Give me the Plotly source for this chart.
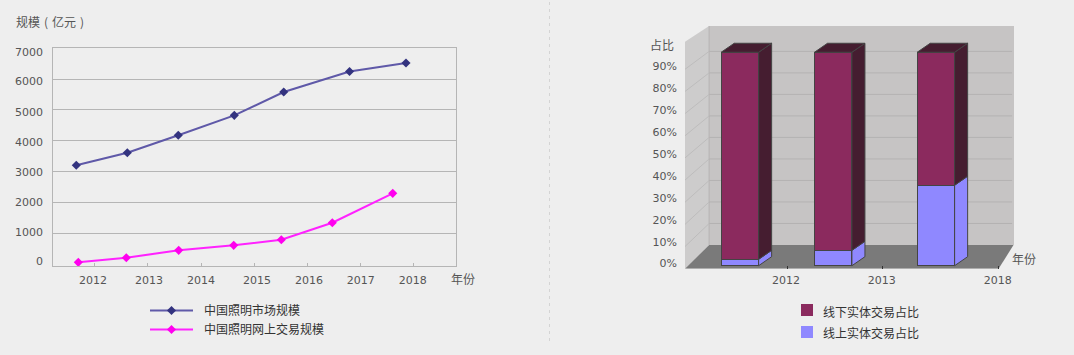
import plotly.graph_objects as go

W, H = 1074, 355
BG = "#eeeeee"
FONT = "DejaVu Sans, Noto Sans CJK SC, sans-serif"
CJK = "Noto Sans CJK SC, sans-serif"
AXC = "#b5b5b5"
TXT = "#555555"

# ---- left chart data (years on a numeric axis, points sit off the year ticks)
market_name = "中国照明市场规模"
online_name = "中国照明网上交易规模"
market_x = [2011.654, 2012.613, 2013.571, 2014.624, 2015.553, 2016.79, 2017.851]
market_v = [3205, 3613, 4178, 4826, 5582, 6247, 6523]
online_x = [2011.692, 2012.594, 2013.579, 2014.613, 2015.508, 2016.466, 2017.602]
online_v = [58, 208, 448, 610, 791, 1343, 2296]
left_years = ["2012", "2013", "2014", "2015", "2016", "2017", "2018"]
left_year_ticks = [2012, 2013, 2014, 2015, 2016, 2017, 2018]
left_year_labelpos = [2011.968, 2013.02, 2014.0, 2015.05, 2016.03, 2017.0, 2017.98]
left_grid = [1000, 2000, 3000, 4000, 5000, 6000, 7000]
left_labels = ["0", "1000", "2000", "3000", "4000", "5000", "6000", "7000"]
left_labelpos = [100, 1051, 2024, 2997, 3970, 4943, 5939, 6889]

# ---- right chart data
offline_name = "线下实体交易占比"
online_share_name = "线上实体交易占比"
bar_pos = [0.495, 1.477, 2.558]
online_share = [3.0, 7.2, 37.7]
offline_share = [97.0, 92.8, 62.3]
right_years = ["2012", "2013", "2018"]
right_year_ticks = [1, 2, 3.218]
right_year_labelpos = [0.979, 1.989, 3.21]
pct_labels = ["0%", "10%", "20%", "30%", "40%", "50%", "60%", "70%", "80%", "90%"]
pct_vals = [0, 10, 20, 30, 40, 50, 60, 70, 80, 90]
BAR_W = 0.394
DX, DY = 0.137, 4.22          # bar depth in axis units
WX0, WX1, WXB = -0.083, 3.38, 0.171  # wall left, right end, back-left
FRONT0, BACK0 = -1.4, 9.7     # floor height front and back
OFFLINE_C, ONLINE_C = "#8b2a5e", "#8f88ff"


def pxx(a, b):
    return [a / W, b / W]


def pxy(top, bottom):
    return [1 - bottom / H, 1 - top / H]


fig = go.Figure()

# ---- left chart
fig.add_trace(go.Scatter(x=market_x, y=market_v, name="\u2002" + market_name, mode="lines+markers",
                         line=dict(color="#5f59a8", width=2),
                         marker=dict(symbol="diamond", size=7, color="#33337f"),
                         legendgroup="a"))
fig.add_trace(go.Scatter(x=online_x, y=online_v, name="\u2002" + online_name, mode="lines+markers",
                         line=dict(color="#ff22ff", width=2),
                         marker=dict(symbol="diamond", size=7, color="#ff00ee"),
                         legendgroup="b"))

# ---- right chart: front faces are real stacked bars
fig.add_trace(go.Bar(x=bar_pos, y=online_share, width=BAR_W, name=online_share_name,
                     xaxis="x2", yaxis="y2", showlegend=False,
                     marker=dict(color=ONLINE_C, line=dict(color="#444444", width=1))))
fig.add_trace(go.Bar(x=bar_pos, y=offline_share, width=BAR_W, name=offline_name,
                     xaxis="x2", yaxis="y2", showlegend=False,
                     marker=dict(color=OFFLINE_C, line=dict(color="#444444", width=1))))


def poly(xs, ys, color):
    fig.add_trace(go.Scatter(x=xs, y=ys, mode="lines", fill="toself", fillcolor=color,
                             line=dict(color="#444444", width=1), xaxis="x2", yaxis="y2",
                             showlegend=False, hoverinfo="skip"))


for xc, lo, up in zip(bar_pos, online_share, offline_share):
    r = xc + BAR_W / 2
    l = xc - BAR_W / 2
    total = lo + up
    poly([r, r + DX, r + DX, r, r], [0, DY, lo + DY, lo, 0], ONLINE_C)
    poly([r, r + DX, r + DX, r, r], [lo, lo + DY, total + DY, total, lo], "#451d30")
    poly([l, r, r + DX, l + DX, l], [total, total, total + DY, total + DY, total], "#451d30")

# ---- 3D room as shapes in the right chart's axes
shapes = []


def path(xs, ys):
    return "M" + "L".join(f"{a},{b}" for a, b in zip(xs, ys)) + "Z"


def back_y(p):
    return BACK0 + p * 1.008


def front_y(p):
    return FRONT0 + p * 1.038


ROOM_TOP = 112.3
shapes.append(dict(type="path", xref="x2", yref="y2", layer="below", line=dict(width=0), fillcolor="#c6c4c4",
                   path=path([WXB, WX1, WX1, WXB], [BACK0, BACK0, ROOM_TOP, ROOM_TOP])))
shapes.append(dict(type="path", xref="x2", yref="y2", layer="below", line=dict(width=0), fillcolor="#cdcccc",
                   path=path([WX0, WXB, WXB, WX0], [FRONT0, BACK0, ROOM_TOP, ROOM_TOP - 7.4])))
shapes.append(dict(type="path", xref="x2", yref="y2", layer="below", line=dict(width=0), fillcolor="#7a7a7a",
                   path=path([WX0, WXB, WX1 - 0.005, 3.218], [FRONT0, BACK0, BACK0, FRONT0])))
shapes.append(dict(type="line", xref="x2", yref="y2", layer="below", line=dict(color="#b4b2b2", width=1),
                   x0=WXB, x1=WXB, y0=BACK0, y1=ROOM_TOP))
for p in pct_vals[1:]:
    shapes.append(dict(type="line", xref="x2", yref="y2", layer="below", line=dict(color="#b4b2b2", width=1),
                       x0=WXB, x1=WX1 - 0.02, y0=back_y(p), y1=back_y(p)))
    shapes.append(dict(type="line", xref="x2", yref="y2", layer="below", line=dict(color="#bdbcbc", width=1),
                       x0=WX0, x1=WXB, y0=front_y(p), y1=back_y(p)))
# dashed page divider
shapes.append(dict(type="line", xref="paper", yref="paper", x0=549.5 / W, x1=549.5 / W,
                   y0=1 - 341 / H, y1=1 - 2 / H, line=dict(color="#d4d4d4", width=1, dash="3px,4px")))
# right legend swatches
for y_mid, col in [(310, OFFLINE_C), (332, ONLINE_C)]:
    shapes.append(dict(type="rect", xref="paper", yref="paper", x0=801 / W, x1=813 / W,
                       y0=1 - (y_mid + 6) / H, y1=1 - (y_mid - 6) / H, fillcolor=col, line=dict(width=0)))


def note(text, x, y, color=TXT, size=12, anchor="center"):
    return dict(text=text, xref="paper", yref="paper", x=x / W, y=1 - y / H, showarrow=False,
                xanchor=anchor, yanchor="middle", font=dict(family=CJK, size=size, color=color))


annotations = [
    note("规模\u2004(\u2004亿元\u2004)", 50, 21.5),
    note("年份", 462.5, 278),
    note("占比", 661.5, 44),
    note("年份", 1023.5, 258.5),
    note(offline_name, 820.5, 311, color="#333333", anchor="left"),
    note(online_share_name, 820.5, 332, color="#333333", anchor="left"),
]

tickfont = dict(family=FONT, size=11, color=TXT)
fig.update_layout(
    width=W, height=H, autosize=False, margin=dict(l=0, r=0, t=0, b=0, autoexpand=False),
    paper_bgcolor=BG, plot_bgcolor=BG, barmode="stack", showlegend=True,
    font=dict(family=FONT, size=12, color="#333333"),
    shapes=shapes, annotations=annotations,
    xaxis=dict(domain=pxx(53.3, 456), range=[2011.222, 2018.791], tickmode="array",
               tickvals=left_year_labelpos, ticktext=left_years, ticks="", showgrid=False, zeroline=False,
               showline=True, linecolor=AXC, linewidth=1, mirror=True, tickfont=tickfont,
               ticklabelstandoff=3, anchor="y",
               minor=dict(tickmode="array", tickvals=left_year_ticks, ticks="inside", ticklen=3,
                          tickcolor=AXC, showgrid=False)),
    yaxis=dict(domain=pxy(48.3, 266.3), range=[-70, 7000], tickmode="array",
               tickvals=left_labelpos, ticktext=left_labels, ticks="", showgrid=False, zeroline=False,
               showline=True, linecolor=AXC, linewidth=1, mirror=True, tickfont=tickfont,
               ticklabelstandoff=7, anchor="x",
               minor=dict(tickmode="array", tickvals=left_grid, showgrid=True, gridcolor=AXC, gridwidth=1, ticks="")),
    xaxis2=dict(domain=pxx(685, 1014), range=[WX0, 3.38], tickmode="array",
                tickvals=right_year_labelpos, ticktext=right_years, ticks="", showgrid=False, zeroline=False,
                showline=False, tickfont=tickfont, ticklabelstandoff=3, anchor="y2",
                minor=dict(tickmode="array", tickvals=right_year_ticks, ticks="inside", ticklen=3,
                           tickcolor="#333333", showgrid=False)),
    yaxis2=dict(domain=pxy(26, 268.7), range=[FRONT0, ROOM_TOP], tickmode="array",
                tickvals=[1.0 + 1.027 * p for p in pct_vals], ticktext=pct_labels, ticks="", showgrid=False,
                zeroline=False, showline=False, tickfont=tickfont, ticklabelstandoff=7, anchor="x2"),
    legend=dict(x=145 / W, y=1 - 296 / H, xanchor="left", yanchor="top", bgcolor="rgba(0,0,0,0)",
                itemwidth=43, tracegroupgap=4, traceorder="normal",
                font=dict(family=CJK, size=12, color="#333333")),
)

fig.write_html("out.html", config=dict(displayModeBar=False), post_script="document.body.style.margin='0';")
